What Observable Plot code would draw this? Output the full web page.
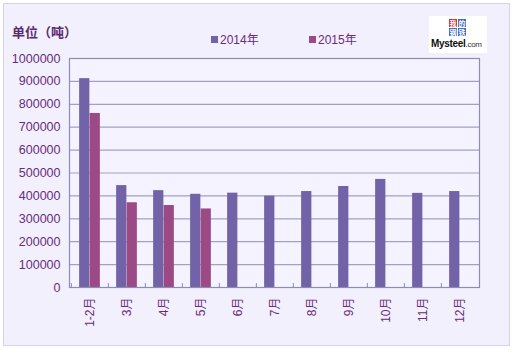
<!DOCTYPE html>
<html>
<head>
<meta charset="utf-8">
<script src="https://cdn.jsdelivr.net/npm/d3@7"></script>
<script src="https://cdn.jsdelivr.net/npm/@observablehq/plot@0.6"></script>
<style>
  body { margin: 0; background: #ffffff; font-family: "Liberation Sans", "Noto Sans CJK SC", sans-serif; }
  #wrap { position: relative; width: 517px; height: 351px; overflow: hidden; }
  #panel { position: absolute; left: 3px; top: 3px; width: 505px; height: 341px; background: #F1F0FC; border: 1px solid #D3D2EA; }
  #chart { position: absolute; left: 0; top: 0; }
  .title { position: absolute; left: 12px; top: 22px; font: bold 13px "Noto Sans CJK SC", sans-serif; color: #5A2A6E; }
  .leg { position: absolute; top: 30px; font: 12px "Liberation Sans", "Noto Sans CJK SC", sans-serif; color: #6A2C7A; white-space: nowrap; }
  .leg span { display: inline-block; width: 7px; height: 7px; margin-right: 2px; vertical-align: 1px; }
  #logo { position: absolute; left: 429px; top: 16px; width: 58px; height: 37px; background: #fff; }
  #logo .sq { position: absolute; width: 8px; height: 8px; font: bold 7px "Noto Sans CJK SC", sans-serif; color: #fff; line-height: 8px; text-align: center; }
  #logo .txt { position: absolute; left: 2px; top: 22px; font: bold 10px "Liberation Sans", sans-serif; color: #111; letter-spacing: -0.3px; }
  #logo .txt small { font-weight: normal; font-size: 8px; color: #333; }
</style>
</head>
<body>
<div id="wrap">
  <div id="panel"></div>
  <div id="chart"></div>
  <div class="title">单位（吨）</div>
  <div class="leg" style="left:211px"><span style="background:#7262A8"></span>2014年</div>
  <div class="leg" style="left:309px"><span style="background:#9C4A86"></span>2015年</div>
  <div id="logo">
    <div class="sq" style="left:20px;top:3px;background:#D8242A">我</div>
    <div class="sq" style="left:29px;top:3px;background:#3A6BB5">的</div>
    <div class="sq" style="left:20px;top:12px;background:#3A6BB5">钢</div>
    <div class="sq" style="left:29px;top:12px;background:#3A6BB5">铁</div>
    <div class="txt">Mysteel<small>.com</small></div>
  </div>
</div>
<script>
const months = ["1-2月", "3月", "4月", "5月", "6月", "7月", "8月", "9月", "10月", "11月", "12月"];
const values2014 = [912000, 445000, 423000, 407000, 412000, 399000, 419000, 441000, 472000, 411000, 419000];
const months2015 = ["1-2月", "3月", "4月", "5月"];
const values2015 = [760000, 370000, 358000, 343000];
const yTicks = [0, 100000, 200000, 300000, 400000, 500000, 600000, 700000, 800000, 900000, 1000000];

const color2014 = "#7262A8";
const color2015 = "#9C4A86";
const textColor = "#6A2C7A";

const d2014 = months.map((m, i) => ({month: m, value: values2014[i]}));
const d2015 = months2015.map((m, i) => ({month: m, value: values2015[i]}));

const W = 517, H = 351;
const mL = 69, mR = 38, mT = 58, mB = 64;
const step = (W - mL - mR) / months.length;
const barW = 10.5;
const inset = (step - barW) / 2;

const plot = Plot.plot({
  width: W,
  height: H,
  marginLeft: mL,
  marginRight: mR,
  marginTop: mT,
  marginBottom: mB,
  style: { background: "transparent", fontFamily: "'Liberation Sans', 'Noto Sans CJK SC', sans-serif", fontSize: "12px", color: textColor },
  x: { domain: months, padding: 0, label: null },
  y: { domain: [0, 1000000], label: null },
  marks: [
    Plot.frame({ fill: "#F4F3FF", stroke: "none" }),
    Plot.ruleY(yTicks, { stroke: "#A2A1C4", strokeWidth: 1.2 }),
    Plot.barY(d2014, { x: "month", y: "value", fill: color2014, insetLeft: inset, insetRight: inset, dx: -barW / 2 }),
    Plot.barY(d2015, { x: "month", y: "value", fill: color2015, insetLeft: inset, insetRight: inset, dx: barW / 2 }),
    Plot.ruleX(months, { x: d => d, y1: 0, y2: 0, insetTop: -4, dx: -step / 2, stroke: "#8E8DB0", strokeWidth: 1 }),
    Plot.frame({ stroke: "#8E8DB0", strokeWidth: 1.2 }),
    Plot.axisY(yTicks, { tickSize: 0, tickPadding: 9, tickFormat: d => String(d), fill: textColor, fontSize: 12.5 }),
    Plot.axisX({ tickSize: 0, tickPadding: 10, tickRotate: -90, fill: textColor, fontSize: 12 })
  ]
});
document.getElementById("chart").appendChild(plot);
</script>
</body>
</html>
